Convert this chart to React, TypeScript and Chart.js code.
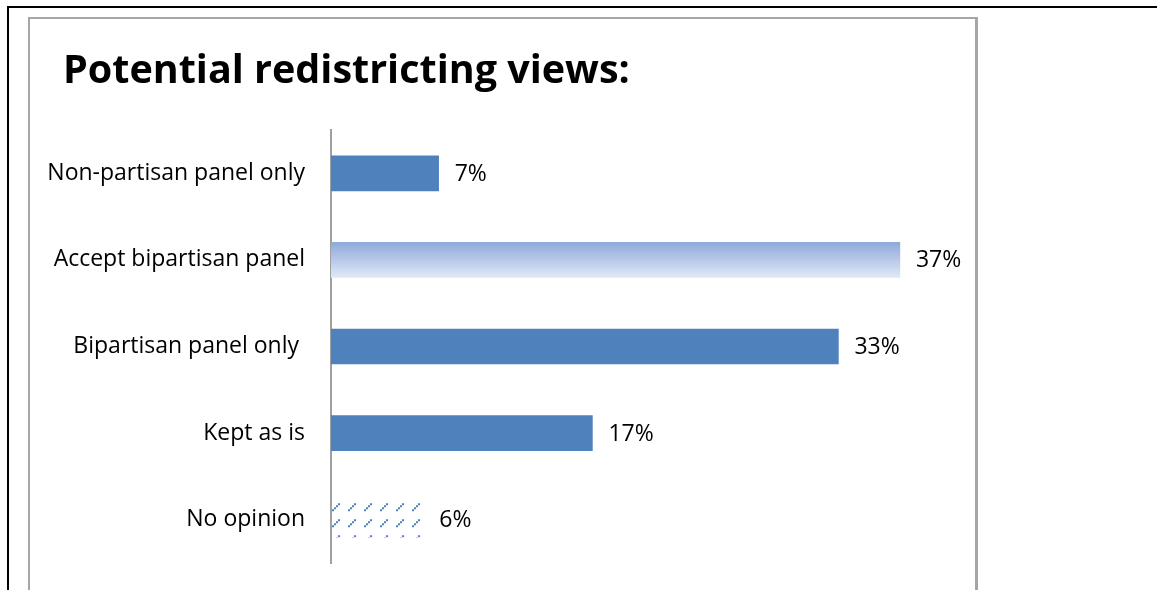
import React, { useEffect, useRef } from "react";
import { Chart, registerables } from "chart.js";

Chart.register(...registerables);

const titleText = "Potential redistricting views:";
const categories = [
  "Non-partisan panel only",
  "Accept bipartisan panel",
  "Bipartisan panel only ",
  "Kept as is",
  "No opinion",
];
const percentValues = [7, 37, 33, 17, 6];
const valueLabels = ["7%", "37%", "33%", "17%", "6%"];

const BLUE = "#4f81bd";
const FAMILY = "'Open Sans'";
const LABEL_SIZE = 23;
const LABEL_FONT = `${LABEL_SIZE}px ${FAMILY}`;
const TITLE_FONT = `bold 39.5px ${FAMILY}`;

function makePattern(ctx: CanvasRenderingContext2D, ox: number, oy: number) {
  const c = document.createElement("canvas");
  c.width = 16;
  c.height = 16;
  const g = c.getContext("2d")!;
  g.fillStyle = BLUE;
  g.fillRect(0, 6, 2, 2);
  g.fillRect(2, 4, 2, 2);
  g.fillRect(4, 2, 2, 2);
  g.fillRect(6, 0, 2, 2);
  const p = ctx.createPattern(c, "repeat")!;
  if (p.setTransform) p.setTransform(new DOMMatrix().translate(ox, oy));
  return p;
}

const labelPlugin = {
  id: "valueLabels",
  afterDatasetsDraw(chart: any) {
    const ctx = chart.ctx;
    const meta = chart.getDatasetMeta(0);
    ctx.save();
    ctx.font = LABEL_FONT;
    ctx.fillStyle = "#000";
    ctx.textAlign = "left";
    ctx.textBaseline = "middle";
    meta.data.forEach((el: any, i: number) => {
      ctx.fillText(valueLabels[i], el.x + 16, el.y + 1);
    });
    ctx.restore();
  },
};

const titlePlugin = {
  id: "leftTitle",
  afterDraw(chart: any) {
    const ctx = chart.ctx;
    ctx.save();
    ctx.font = TITLE_FONT;
    ctx.fillStyle = "#000";
    ctx.textAlign = "left";
    ctx.textBaseline = "alphabetic";
    ctx.fillText(titleText, 63, 83);
    ctx.restore();
  },
};

export default function App() {
  const ref = useRef<HTMLCanvasElement>(null);

  useEffect(() => {
    if (!ref.current) return;
    const chart = new Chart(ref.current, {
      type: "bar",
      data: {
        labels: categories,
        datasets: [
          {
            data: percentValues,
            barThickness: 35,
            borderWidth: 0,
            backgroundColor: (c: any) => {
              const ch = c.chart;
              const i = c.dataIndex;
              if (c.type !== "data" || !ch.scales || !ch.scales.y) return BLUE;
              const yc = ch.scales.y.getPixelForValue(i);
              const top = yc - 17.5;
              if (i === 1) {
                const g = ch.ctx.createLinearGradient(0, top, 0, top + 35);
                g.addColorStop(0, "#8eaadb");
                g.addColorStop(1, "#e0e8f5");
                return g;
              }
              if (i === 4) {
                const x0 = ch.scales.x.getPixelForValue(0);
                return makePattern(ch.ctx, x0 + 1, top + 1);
              }
              return BLUE;
            },
          },
        ],
      },
      options: {
        indexAxis: "y",
        responsive: false,
        animation: false,
        layout: { padding: { left: 0, right: 211, top: 130, bottom: 27 } },
        plugins: {
          legend: { display: false },
          title: { display: false },
          tooltip: { enabled: false },
        },
        scales: {
          x: {
            display: false,
            min: 0,
            max: 40,
          },
          y: {
            afterFit: (s: any) => {
              s.width = 331;
            },
            grid: { display: false, drawTicks: true, tickLength: 26 },
            border: { display: true, color: "#a0a0a0", width: 2 },
            ticks: {
              color: "#000",
              font: { family: "Open Sans", size: LABEL_SIZE },
              padding: 0,
            },
          },
        },
      },
      plugins: [labelPlugin, titlePlugin],
    });
    return () => chart.destroy();
  }, []);

  return (
    <div style={{ position: "absolute", left: 0, top: 0, width: 1157, height: 590, overflow: "hidden", background: "#fff" }}>
      <div
        style={{
          position: "absolute",
          left: 7,
          top: 6,
          width: 1160,
          height: 600,
          borderTop: "2px solid #000",
          borderLeft: "2px solid #000",
        }}
      />
      <div
        style={{
          position: "absolute",
          left: 28,
          top: 17,
          width: 945,
          height: 600,
          borderTop: "2px solid #a6a6a6",
          borderLeft: "2px solid #a6a6a6",
          borderRight: "3px solid #a6a6a6",
        }}
      />
      <canvas
        ref={ref}
        width={1157}
        height={590}
        style={{ position: "absolute", left: 0, top: 0, width: 1157, height: 590 }}
      />
    </div>
  );
}
